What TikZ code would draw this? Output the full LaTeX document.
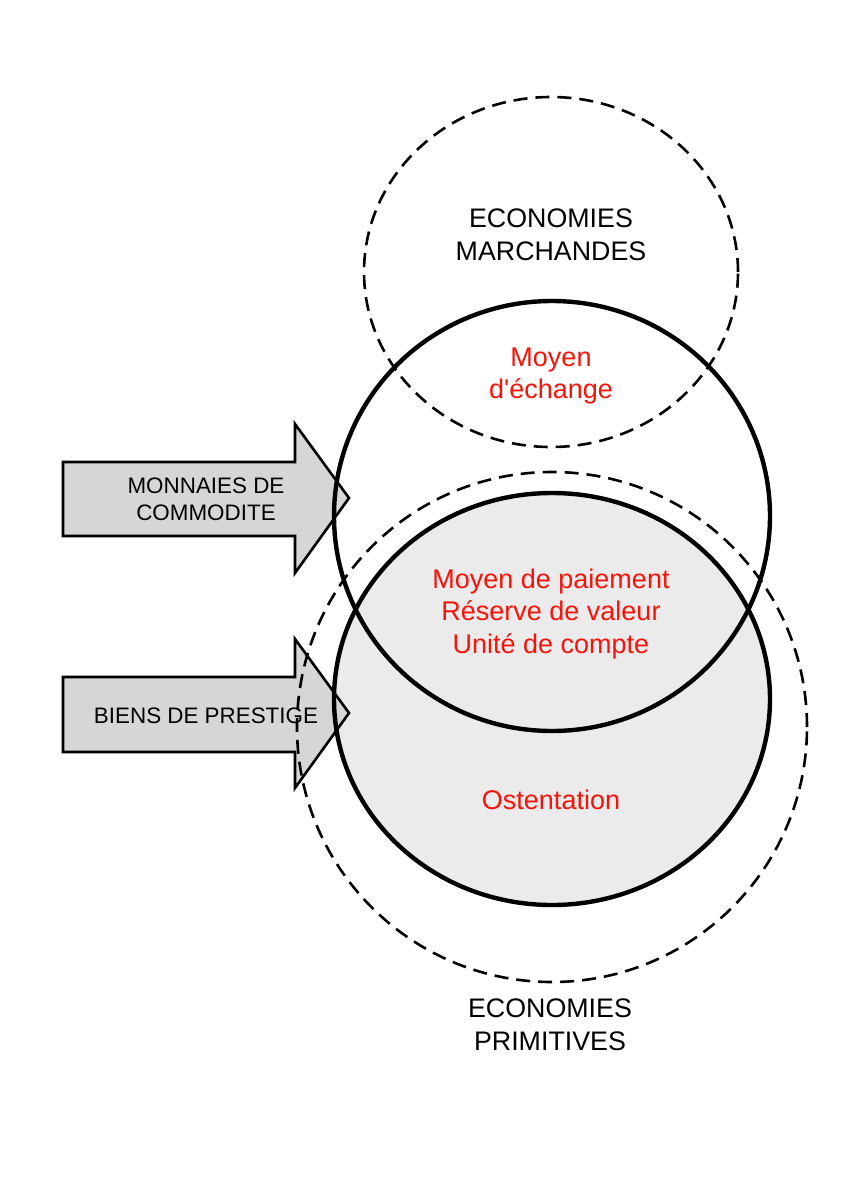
\documentclass[tikz,border=0pt]{standalone}
\usepackage{fontspec}
\setmainfont{Liberation Sans}
\definecolor{labred}{RGB}{245,20,10}
\definecolor{circgray}{RGB}{235,235,235}
\definecolor{arrowgray}{RGB}{214,214,214}
\begin{document}
\begin{tikzpicture}[x=1pt,y=-1pt,
  solidc/.style={draw=black, line width=4.4pt},
  dashc/.style={draw=black, line width=2.6pt, dash pattern=on 14pt off 8pt},
  blockarrow/.style={draw=black, line width=2.6pt, fill=arrowgray, line join=miter},
  redlab/.style={text=labred, font=\fontsize{27}{32}\selectfont, anchor=base, inner sep=0pt},
  blacklab/.style={text=black, font=\fontsize{26.8}{33}\selectfont, anchor=base, inner sep=0pt},
  arrowlab/.style={text=black, font=\fontsize{22.4}{27}\selectfont, anchor=base, inner sep=0pt}]
\useasboundingbox (0,0) rectangle (843,1181);
% fill of the lower solid circle
\fill[circgray] (552,699) ellipse [x radius=218pt, y radius=206pt];
% block arrows
\draw[blockarrow] (63,462) -- (295,462) -- (295,424) -- (349,498) -- (295,573) -- (295,536) -- (63,536) -- cycle;
\draw[blockarrow] (63,677) -- (295,677) -- (295,639) -- (349,713) -- (295,788) -- (295,752) -- (63,752) -- cycle;
% circles
\draw[dashc] (551,272) ellipse [x radius=187pt, y radius=175pt];
\draw[dashc] (552,727) ellipse [x radius=255pt, y radius=255pt];
\draw[solidc] (552,516) ellipse [x radius=218pt, y radius=215pt];
\draw[solidc] (552,699) ellipse [x radius=218pt, y radius=206pt];
% labels
\node[blacklab] (m1) at (551,227) {ECONOMIES};
\node[blacklab] (m2) at (551,260) {MARCHANDES};
\node[redlab] (e1) at (551,366) {Moyen};
\node[redlab] (e2) at (551,398) {d\textquotesingle échange};
\node[redlab] (p1) at (551,588) {Moyen de paiement};
\node[redlab] (p2) at (551,620) {Réserve de valeur};
\node[redlab] (p3) at (551,653) {Unité de compte};
\node[redlab] (o1) at (551,809) {Ostentation};
\node[blacklab] (q1) at (550,1017) {ECONOMIES};
\node[blacklab] (q2) at (550,1050) {PRIMITIVES};
\node[arrowlab] (a1) at (206,493) {MONNAIES DE};
\node[arrowlab] (a2) at (206,520) {COMMODITE};
\node[arrowlab] (b1) at (206,723) {BIENS DE PRESTIGE};
\end{tikzpicture}
\end{document}
